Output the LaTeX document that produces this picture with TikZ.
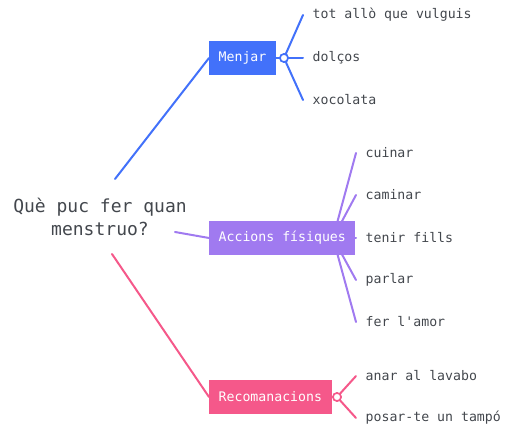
\documentclass[tikz,border=0pt]{standalone}
\usepackage{fontspec}
\setmonofont{DejaVu Sans Mono}
\usepackage{tikz}
\usetikzlibrary{calc,positioning}
\definecolor{menjarblue}{HTML}{4271FA}
\definecolor{accionspurple}{HTML}{A07AF0}
\definecolor{recompink}{HTML}{F5588A}
\definecolor{leaftext}{HTML}{43474D}
\tikzstyle{topic} = [rectangle, anchor=west, text=white, font=\ttfamily\fontsize{13.2}{15}\selectfont, minimum height=34pt, inner xsep=9.5pt]
\tikzstyle{leaf} = [anchor=west, inner xsep=9.5pt, inner ysep=2pt, text=leaftext, font=\ttfamily\fontsize{13.2}{15}\selectfont]
\tikzstyle{knob} = [circle, draw, fill=white, line width=1.6pt, minimum size=8pt, inner sep=0pt]
\tikzstyle{branch} = [line width=2pt, line cap=round]

\begin{document}
\begin{tikzpicture}[x=1pt, y=-1pt]
    \useasboundingbox (0,0) rectangle (505,427);

    \node(root)[align=center, text=leaftext, font=\ttfamily\fontsize{18}{23}\selectfont] at (100,217) {Què puc fer quan\\menstruo?};
    \coordinate(rootmenjar) at (115,179);
    \coordinate(rootaccions) at (175,232);
    \coordinate(rootrecom) at (112,254);

    % Menjar
    \node(menjar)[topic, fill=menjarblue] at (209,58) {Menjar};
    \node(menjarknob)[knob, draw=menjarblue] at (284,58) {};
    \node(tot)[leaf] at (303,15) {tot allò que vulguis};
    \node(dolcos)[leaf] at (303,58) {dolços};
    \node(xocolata)[leaf] at (303,100) {xocolata};

    \draw[branch, menjarblue] (rootmenjar) -- (menjar.west);
    \draw[branch, menjarblue] (menjar.east) -- (menjarknob.west);
    \draw[branch, menjarblue] (menjarknob) -- (tot.west);
    \draw[branch, menjarblue] (menjarknob.east) -- (dolcos.west);
    \draw[branch, menjarblue] (menjarknob) -- (xocolata.west);
    \node[knob, draw=menjarblue] at (menjarknob) {};

    % Accions fisiques
    \node(cuinar)[leaf] at (356,153) {cuinar};
    \node(caminar)[leaf] at (356,195) {caminar};
    \node(tenir)[leaf] at (356,238) {tenir fills};
    \node(parlar)[leaf] at (356,280) {parlar};
    \node(amor)[leaf] at (356,322) {fer l'amor};
    \coordinate(accionsfan) at (333,238);
    \foreach \n in {cuinar,caminar,tenir,parlar,amor}
        \draw[branch, accionspurple] (accionsfan) -- (\n.west);
    \node(accions)[topic, fill=accionspurple] at (209,238) {Accions físiques};
    \draw[branch, accionspurple] (rootaccions) -- (accions.west);

    % Recomanacions
    \node(recom)[topic, fill=recompink] at (209,397) {Recomanacions};
    \node(recomknob)[knob, draw=recompink] at (337,397) {};
    \node(lavabo)[leaf] at (356,376) {anar al lavabo};
    \node(tampo)[leaf] at (356,418) {posar-te un tampó};

    \draw[branch, recompink] (rootrecom) -- (recom.west);
    \draw[branch, recompink] (recomknob) -- (lavabo.west);
    \draw[branch, recompink] (recomknob) -- (tampo.west);
    \node[knob, draw=recompink] at (recomknob) {};

\end{tikzpicture}
\end{document}
